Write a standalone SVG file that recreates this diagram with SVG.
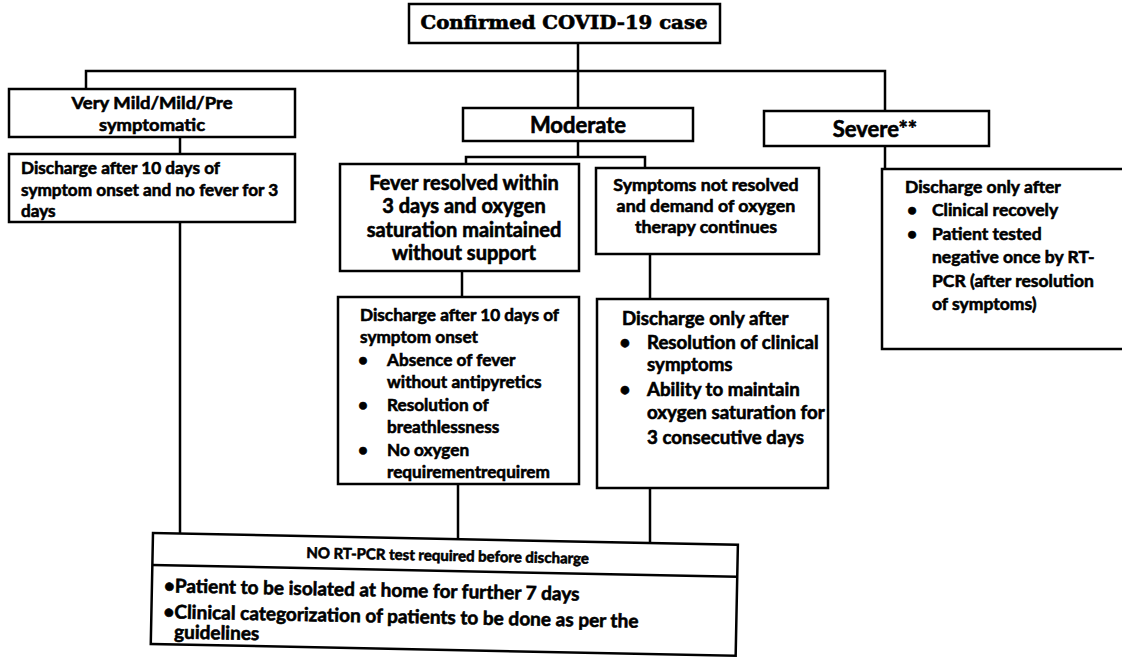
<svg xmlns="http://www.w3.org/2000/svg" width="1122" height="657" viewBox="0 0 1122 657">
<style>
.box{fill:#fff;stroke:#000;stroke-width:2.5}
.ln{fill:none;stroke:#000;stroke-width:2.5}
text{font-family:Lato,"Liberation Sans",sans-serif;font-weight:bold;fill:#000;stroke:#000;stroke-width:0.6}
.c{text-anchor:middle}
.t{font-family:"DejaVu Serif","Liberation Serif",serif;font-size:18px;font-weight:bold}
.h{font-size:22px}
.v{font-size:17.5px}
.m{font-size:17.2px}
.n{font-size:18.7px}
.s{font-size:17.5px}
.f{font-size:20px}
.y{font-size:17.8px}
.x{font-size:15px}
.b{font-size:19px}
</style>
<rect width="1122" height="657" fill="#fff"/>
<g id="connectors" class="ln">
<path d="M578,43 V108"/>
<path d="M86,89 V71 H885 V111"/>
<path d="M180,137 V154"/>
<path d="M180,222 V534"/>
<path d="M578,141 V157"/>
<path d="M466,164 V157 H645 V168"/>
<path d="M462,271 V297"/>
<path d="M650,254 V299"/>
<path d="M458,484 V539"/>
<path d="M650,488 V543"/>
<path d="M885,146 V169"/>
</g>
<g id="confirmed">
<rect class="box" x="409" y="4" width="311" height="39"/>
<text class="t c" x="564" y="29" textLength="287" lengthAdjust="spacingAndGlyphs">Confirmed COVID-19 case</text>
</g>
<g id="very-mild">
<rect class="box" x="9" y="89" width="286" height="48"/>
<text class="v c" x="152" y="109" textLength="161" lengthAdjust="spacingAndGlyphs">Very Mild/Mild/Pre</text>
<text class="v c" x="152" y="131" textLength="106" lengthAdjust="spacingAndGlyphs">symptomatic</text>
</g>
<g id="moderate">
<rect class="box" x="463" y="108" width="230" height="33"/>
<text class="h c" x="578" y="133">Moderate</text>
</g>
<g id="severe">
<rect class="box" x="764" y="111" width="225" height="35"/>
<text class="h c" x="875" y="137">Severe**</text>
</g>
<g id="very-mild-discharge">
<rect class="box" x="9" y="154" width="286" height="68"/>
<text class="m" x="21" y="174">Discharge after 10 days of</text>
<text class="m" x="21" y="196">symptom onset and no fever for 3</text>
<text class="m" x="21" y="217">days</text>
</g>
<g id="fever-resolved">
<rect class="box" x="340" y="164" width="239" height="107"/>
<text class="f c" x="464" y="190">Fever resolved within</text>
<text class="f c" x="464" y="213">3 days and oxygen</text>
<text class="f c" x="464" y="237">saturation maintained</text>
<text class="f c" x="464" y="260">without support</text>
</g>
<g id="symptoms-not-resolved">
<rect class="box" x="596" y="168" width="223" height="86"/>
<text class="y c" x="706" y="191">Symptoms not resolved</text>
<text class="y c" x="706" y="212">and demand of oxygen</text>
<text class="y c" x="706" y="233">therapy continues</text>
</g>
<g id="severe-discharge">
<rect class="box" x="882" y="169" width="260" height="180"/>
<text class="s" x="905" y="193">Discharge only after</text>
<text class="s c" x="912" y="216">•</text>
<text class="s" x="932" y="216">Clinical recovely</text>
<text class="s c" x="912" y="240">•</text>
<text class="s" x="932" y="240">Patient tested</text>
<text class="s" x="932" y="263">negative once by RT-</text>
<text class="s" x="932" y="287">PCR (after resolution</text>
<text class="s" x="932" y="310">of symptoms)</text>
</g>
<g id="moderate-discharge-1">
<rect class="box" x="338" y="297" width="241" height="187"/>
<text class="m" x="360" y="321">Discharge after 10 days of</text>
<text class="m" x="360" y="343">symptom onset</text>
<text class="m c" x="363" y="366">•</text>
<text class="m" x="387" y="366">Absence of fever</text>
<text class="m" x="387" y="388">without antipyretics</text>
<text class="m c" x="363" y="411">•</text>
<text class="m" x="387" y="411">Resolution of</text>
<text class="m" x="387" y="433">breathlessness</text>
<text class="m c" x="363" y="456">•</text>
<text class="m" x="387" y="456">No oxygen</text>
<text class="m" x="387" y="478">requirementrequirem</text>
</g>
<g id="moderate-discharge-2">
<rect class="box" x="597" y="299" width="231" height="189"/>
<text class="n" x="622" y="325">Discharge only after</text>
<text class="n c" x="625" y="349">•</text>
<text class="n" x="647" y="349">Resolution of clinical</text>
<text class="n" x="647" y="371">symptoms</text>
<text class="n c" x="625" y="396">•</text>
<text class="n" x="647" y="396">Ability to maintain</text>
<text class="n" x="647" y="419">oxygen saturation for</text>
<text class="n" x="647" y="444">3 consecutive days</text>
</g>
<g id="no-rt-pcr" transform="rotate(1.15 153 533)">
<rect class="box" x="153" y="533" width="585" height="111"/>
<line class="ln" x1="153" y1="565" x2="738" y2="565"/>
<text class="x c" x="448" y="555">NO RT-PCR test required before discharge</text>
<text class="b" x="165" y="592">•Patient to be isolated at home for further 7 days</text>
<text class="b" x="165" y="618">•Clinical categorization of patients to be done as per the</text>
<text class="b" x="176" y="638">guidelines</text>
</g>
</svg>
